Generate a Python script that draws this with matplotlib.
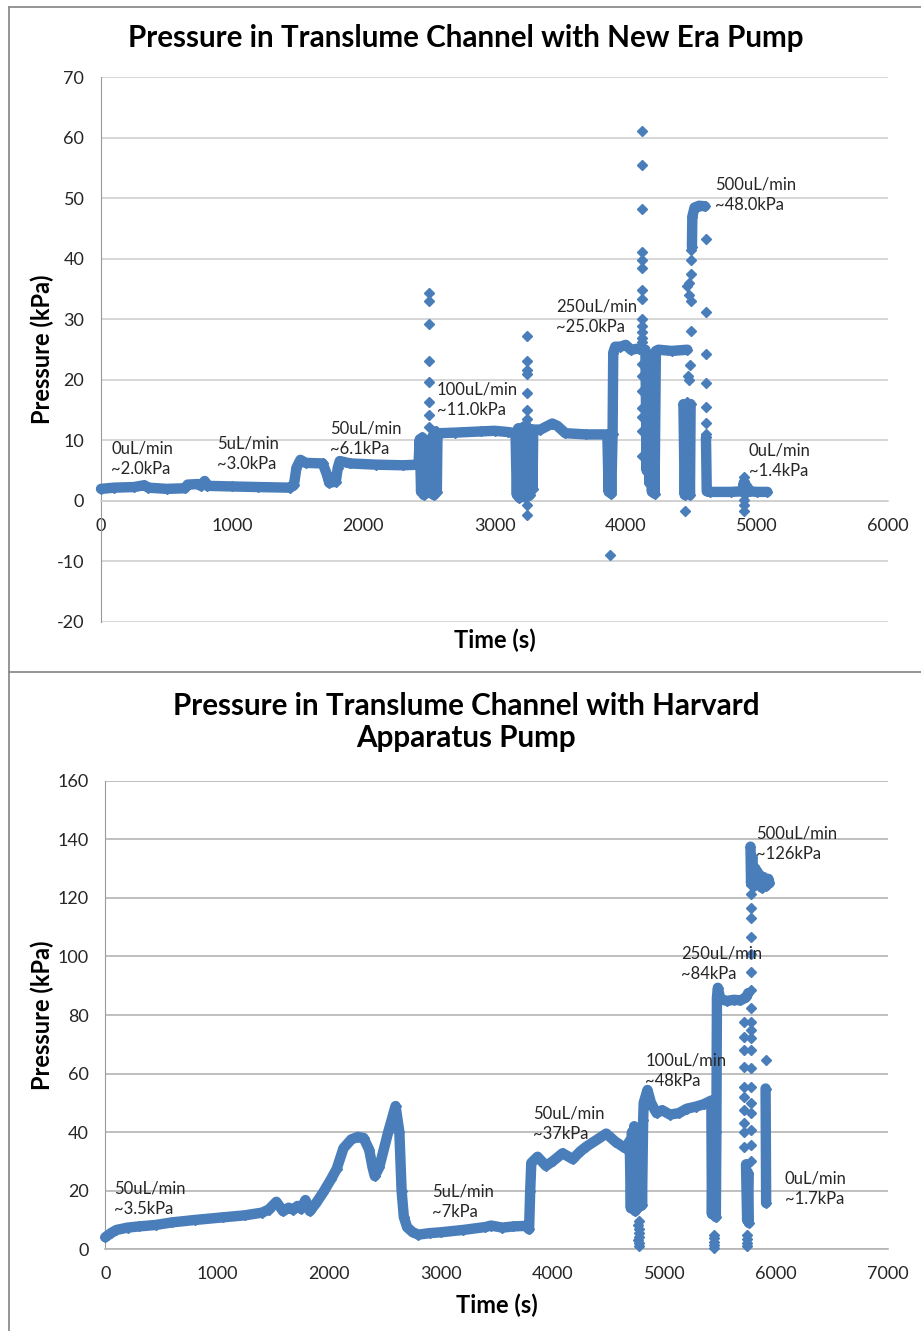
import matplotlib.pyplot as plt
from matplotlib.lines import Line2D

nan = float('nan')
BLUE = '#4A7EBB'
plt.rcParams['font.family'] = ['Lato', 'DejaVu Sans']
plt.rcParams['axes.unicode_minus'] = False

# ---- New Era pump (top chart) ----
era_t = [0, 100, 250, 330, 360, 500, 640, 660, 740, 760, 790, 810, 1000, 1200, 1440, 1470,
         1490, 1520, 1560, 1690, 1720, 1740, 1790, 1805, 1820, 1900, 2100, 2300, 2420,
         2430, 2440, 2450, 2460, 2470, 2480, 2490, 2500, 2510, 2520, 2530, 2540, 2550, 2560, 2565,
         2580, 2700, 2900, 3000, 3100, 3160,
         3170, 3180, 3190, 3200, 3210, 3220, 3230, 3240, 3250, 3260, 3270, 3280, 3290, 3295,
         3350, 3440, 3480, 3540, 3700, 3860,
         3870, 3880, 3890, 3900, 3905, 3920, 3960, 4000, 4040, 4100, 4150,
         4160, 4170, 4180, 4190, 4200, 4210, 4220, 4230,
         4250, 4350, 4470, nan,
         4440, 4450, 4460, 4470, 4480, 4490, 4495, nan,
         4505, 4508, 4525, 4560, 4605, nan,
         4612, 4618, 4640, 4800, 4890, 4900, 4910, 4920, 4950, 5000, 5080]
era_p = [2.0, 2.2, 2.3, 2.6, 2.2, 2.0, 2.1, 2.7, 2.8, 2.5, 3.3, 2.5, 2.4, 2.3, 2.2, 2.6,
         5.5, 6.8, 6.3, 6.2, 4.5, 3.0, 3.2, 5.5, 6.6, 6.2, 6.0, 5.9, 6.0,
         10.2, 1.5, 10.5, 1.0, 10.0, 1.3, 9.5, 1.5, 10.2, 1.2, 10.8, 1.0, 11.5, 1.5, 11.2,
         11.2, 11.3, 11.5, 11.6, 11.4, 11.2,
         1.0, 12.0, 0.5, 11.8, 1.2, 12.2, 0.6, 12.5, 0.8, 12.0, 1.0, 11.8, 2.0, 11.8,
         11.8, 12.8, 12.4, 11.2, 11.0, 11.0,
         1.5, 11.0, 1.2, 11.0, 24.5, 25.5, 25.5, 25.8, 25.0, 25.2, 25.0,
         5.0, 24.0, 3.0, 22.0, 1.5, 20.0, 1.2, 24.8,
         25.0, 24.8, 25.0, nan,
         16.0, 1.0, 15.0, 1.5, 12.0, 1.0, 16.0, nan,
         42.0, 47.0, 48.5, 48.8, 48.7, nan,
         10.5, 1.6, 1.5, 1.5, 1.6, 3.0, 1.2, 2.5, 1.6, 1.5, 1.5]
era_spike_t = [2502, 2502, 2502, 2502, 2502, 2502, 2502, 2502,
               3247, 3247, 3247, 3247, 3247, 3247, 3247, 3247, 3247,
               3880,
               4123, 4123, 4123, 4123, 4123, 4123, 4123, 4123, 4123, 4123, 4123, 4123, 4123,
               4123, 4123, 4123, 4123, 4123, 4123, 4123,
               4500, 4495, 4500, 4480, 4470, 4485, 4495, 4500, 4490, 4475, 4480, 4470, 4451,
               4611, 4611, 4611, 4611, 4611, 4611, 4611,
               4899, 4899, 4899, 4899, 4899]
era_spike_p = [34.4, 33.1, 29.3, 23.2, 19.6, 16.4, 14.2, 12.2,
               27.2, 23.2, 21.7, 21.0, 17.8, 15.0, 13.5, -0.6, -2.4,
               -9.0,
               61.2, 55.6, 48.2, 41.1, 39.8, 38.5, 34.8, 33.4, 30.0, 29.0, 28.0, 27.0, 26.2,
               22.6, 20.6, 18.2, 15.4, 13.8, 11.6, 7.4,
               41.5, 39.9, 37.5, 36.1, 35.5, 34.1, 33.0, 28.1, 22.4, 20.6, 20.0, 16.4, -1.6,
               43.3, 31.2, 24.3, 19.5, 15.6, 12.9, 11.0,
               4.0, 3.3, 0.2, -0.6, -1.6]
era_labels = ['0uL/min\n~2.0kPa', '5uL/min\n~3.0kPa', '50uL/min\n~6.1kPa', '100uL/min\n~11.0kPa',
              '250uL/min\n~25.0kPa', '500uL/min\n~48.0kPa', '0uL/min\n~1.4kPa']
era_label_t = [76, 882, 1745, 2561, 3468, 4680, 4939]
era_label_p = [7.0, 7.75, 10.3, 16.7, 30.5, 50.6, 6.7]

# ---- Harvard Apparatus pump (bottom chart) ----
harv_t = [0, 50, 100, 200, 300, 450, 600, 800, 1050, 1250, 1400, 1460, 1530, 1590, 1640, 1680,
          1720, 1750, 1790, 1830, 1880, 1950, 2020, 2070, 2130, 2200, 2260, 2310, 2360, 2390,
          2410, 2450, 2530, 2596, 2630, 2650, 2670, 2700, 2750, 2800, 2900, 3000, 3200, 3400,
          3450, 3550, 3650, 3760, 3790, 3800, 3810, 3866, 3940, 4000, 4090, 4180, 4250, 4300,
          4400, 4480, 4560, 4650, 4690,
          4700, 4710, 4720, 4730, 4740, 4750, 4760, 4770, 4780, 4790, 4800, 4810, 4815, 4849,
          4880, 4930, 4980, 5050, 5130, 5200, 5280, 5350, 5420,
          5425, 5435, 5445, 5455, 5460, 5465, 5470, 5478, 5500, 5560, 5620, 5680, 5730, 5750, nan,
          5770, 5775, 5785, 5800, 5815, 5830, 5850, 5870, 5890, 5910, 5930, 5940, nan,
          5905, 5910, nan,
          5730, 5740, 5750, 5755]
harv_p = [4.1, 5.5, 6.6, 7.4, 7.8, 8.3, 9.2, 10.0, 10.9, 11.6, 12.5, 13.5, 16.2, 13.0, 14.2, 13.5,
          14.8, 13.8, 16.8, 13.0, 15.5, 19.5, 24.0, 27.5, 34.5, 37.5, 38.4, 38.0, 34.0, 28.0,
          25.0, 28.0, 40.0, 48.9, 40.0, 20.0, 11.0, 7.5, 5.8, 5.0, 5.5, 5.8, 6.6, 7.6,
          8.1, 7.4, 7.8, 8.0, 6.8, 20.0, 29.5, 31.6, 28.5, 30.0, 32.8, 30.8, 33.5, 35.0,
          37.5, 39.5, 36.8, 34.5, 37.0,
          14.0, 40.0, 16.0, 42.0, 13.0, 38.0, 14.0, 36.0, 18.0, 40.0, 15.0, 44.0, 50.0, 54.4,
          50.0, 46.5, 47.5, 46.0, 46.5, 48.0, 48.7, 49.5, 50.8,
          12.0, 50.0, 14.0, 48.0, 11.0, 40.0, 86.0, 89.3, 85.5, 84.8, 85.2, 85.0, 86.0, 87.5, nan,
          137.5, 125.0, 134.0, 124.0, 130.0, 125.0, 128.0, 123.5, 127.0, 124.0, 126.5, 125.0, nan,
          54.9, 15.8, nan,
          29.0, 10.0, 26.0, 9.0]
harv_spike_t = [4770, 4765, 4775, 4770, 4770, 4765, 4772, 4770,
                5440, 5445, 5440, 5445, 5440,
                5712, 5712, 5712, 5712, 5712, 5712, 5712, 5712, 5712, 5712,
                5771, 5771, 5771, 5771, 5771, 5771, 5771, 5771, 5771, 5771,
                5771, 5771, 5771, 5771, 5771, 5771, 5771, 5771, 5771, 5771,
                5740, 5735, 5740, 5735,
                5905]
harv_spike_p = [9.5, 8.2, 7.0, 5.5, 4.3, 3.2, 2.2, 1.2,
                5.0, 3.8, 2.5, 1.3, 0.4,
                77.7, 72.6, 68.0, 62.3, 55.5, 52.1, 47.5, 43.0, 40.1, 35.0,
                124.3, 121.5, 116.7, 113.0, 106.7, 101.0, 94.7, 88.5, 82.3, 77.7,
                74.8, 72.0, 68.0, 61.8, 55.5, 49.8, 46.4, 40.7, 35.6, 30.0,
                5.0, 3.5, 2.2, 1.0,
                64.8]
harv_labels = ['50uL/min\n~3.5kPa', '5uL/min\n~7kPa', '50uL/min\n~37kPa', '100uL/min\n~48kPa',
               '250uL/min\n~84kPa', '500uL/min\n~126kPa', '0uL/min\n~1.7kPa']
harv_label_t = [78, 2926, 3828, 4828, 5146, 5819, 6075]
harv_label_p = [17.1, 16.3, 43.0, 61.1, 97.4, 138.6, 20.8]


def draw(ax, t, p, st, sp, labels, lt, lp, xmax, ylim, ystep, gridc, xlab_y, ylab_x):
    ax.plot(t, p, '-', color=BLUE, lw=7.5, solid_joinstyle='round', solid_capstyle='round',
            marker='D', ms=5.5, mec=BLUE, mfc=BLUE, clip_on=False, zorder=3)
    ax.plot(st, sp, 'D', color=BLUE, ms=5.5, clip_on=False, zorder=3)
    for txt, x, y in zip(labels, lt, lp):
        ax.text(x, y, txt, fontsize=12, color='#262626', ha='left', va='center',
                linespacing=1.35, zorder=4)
    ax.set_xlim(0, xmax)
    ax.set_ylim(*ylim)
    ax.set_xticks(range(0, xmax + 1, 1000))
    ax.set_yticks(range(ylim[0], ylim[1] + 1, ystep))
    ax.grid(axis='y', color=gridc, lw=1.2)
    ax.set_axisbelow(True)
    for s in ['top', 'right']:
        ax.spines[s].set_visible(False)
    ax.spines['left'].set_color('#9a9a9a')
    ax.spines['bottom'].set_position(('data', 0))
    ax.spines['bottom'].set_color(gridc)
    ax.spines['bottom'].set_linewidth(1.2)
    ax.tick_params(axis='x', length=0, pad=12, labelsize=13, colors='#262626')
    ax.tick_params(axis='y', length=0, pad=12, labelsize=13, colors='#262626')
    ax.text(0.5, xlab_y, 'Time (s)', transform=ax.transAxes, ha='center', va='center',
            fontsize=17, fontweight='bold')
    ax.text(ylab_x, 0.5, 'Pressure (kPa)', transform=ax.transAxes, ha='center', va='center',
            rotation=90, fontsize=17, fontweight='bold')


fig = plt.figure(figsize=(9.21, 13.31), dpi=100)
ax1 = fig.add_axes([0.1097, 0.5327, 0.8545, 0.4091])
ax2 = fig.add_axes([0.1143, 0.0614, 0.8499, 0.3520])

draw(ax1, era_t, era_p, era_spike_t, era_spike_p, era_labels, era_label_t, era_label_p,
     6000, (-20, 70), 10, '#d0d0d0', -0.033, -0.074)
draw(ax2, harv_t, harv_p, harv_spike_t, harv_spike_p, harv_labels, harv_label_t, harv_label_p,
     7000, (0, 160), 20, '#b4b4b4', -0.119, -0.080)

fig.text(0.506, 0.9715, 'Pressure in Translume Channel with New Era Pump', ha='center',
         va='center', fontsize=21.3, fontweight='bold')
fig.text(0.506, 0.4576, 'Pressure in Translume Channel with Harvard\nApparatus Pump', ha='center',
         va='center', fontsize=21.3, fontweight='bold', linespacing=1.2)

# chart frames
for xs, ys in [([0.0103, 0.0103], [0, 0.9947]), ([0.0103, 1], [0.9947, 0.9947]),
               ([0.0103, 1], [0.4951, 0.4951])]:
    fig.add_artist(Line2D(xs, ys, color='#8c8c8c', lw=1.3))

fig.savefig('out.png', dpi=100)
